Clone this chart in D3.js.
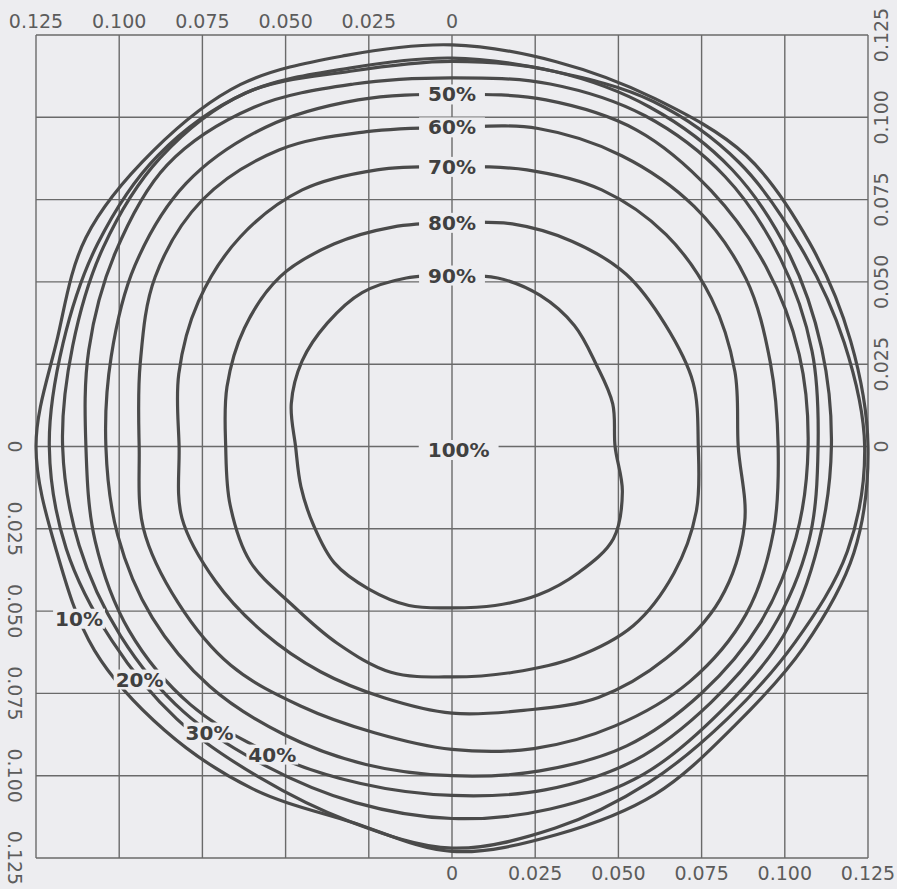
<!DOCTYPE html>
<html>
<head>
<meta charset="utf-8">
<script src="https://cdn.jsdelivr.net/npm/d3@7"></script>
<style>
  body { margin: 0; background: #ededf0; }
  svg { display: block; }
  .tick-label { font-family: 'DejaVu Sans', sans-serif; font-size: 19px; fill: #5c5c5c; }
  .level-label { font-family: 'DejaVu Sans', sans-serif; font-weight: bold; font-size: 20px; fill: #404040; }
</style>
</head>
<body>
<script>
// angles (deg, counter-clockwise from +x) at which each contour radius was read
const angles = d3.range(0, 360, 15);

// contour radii, same units as the axes
const r10 = [0.125,0.124,0.124,0.125,0.122,0.121,0.122,0.123,0.127,0.127,0.127,0.123,0.125,0.123,0.124,0.122,0.120,0.118,0.123,0.122,0.122,0.120,0.122,0.125];
const r20 = [0.124,0.122,0.121,0.122,0.121,0.118,0.118,0.119,0.124,0.125,0.123,0.121,0.121,0.120,0.118,0.117,0.116,0.118,0.122,0.120,0.118,0.117,0.119,0.123];
const r30 = [0.114,0.115,0.117,0.119,0.119,0.118,0.117,0.118,0.124,0.124,0.121,0.118,0.117,0.116,0.115,0.114,0.112,0.112,0.113,0.114,0.115,0.114,0.115,0.114];
const r40 = [0.110,0.112,0.114,0.116,0.116,0.114,0.112,0.114,0.119,0.121,0.117,0.113,0.110,0.111,0.112,0.111,0.108,0.106,0.106,0.108,0.110,0.110,0.111,0.111];
const r50 = [0.107,0.108,0.109,0.110,0.111,0.109,0.107,0.109,0.112,0.113,0.110,0.106,0.104,0.104,0.104,0.103,0.101,0.100,0.100,0.102,0.105,0.106,0.107,0.107];
const r60 = [0.098,0.099,0.102,0.103,0.102,0.100,0.097,0.099,0.104,0.106,0.103,0.097,0.094,0.096,0.095,0.094,0.091,0.090,0.092,0.095,0.098,0.101,0.102,0.100];
const r70 = [0.086,0.088,0.090,0.091,0.090,0.087,0.085,0.087,0.090,0.090,0.088,0.085,0.082,0.084,0.082,0.080,0.079,0.079,0.081,0.083,0.088,0.091,0.093,0.091];
const r80 = [0.074,0.075,0.074,0.074,0.072,0.070,0.068,0.069,0.071,0.073,0.072,0.070,0.068,0.069,0.070,0.068,0.069,0.071,0.070,0.071,0.074,0.077,0.077,0.076];
const r90 = [0.049,0.050,0.050,0.052,0.053,0.053,0.052,0.053,0.054,0.053,0.052,0.050,0.047,0.047,0.048,0.050,0.050,0.050,0.049,0.050,0.052,0.054,0.056,0.053];

const levels = ["10%", "20%", "30%", "40%", "50%", "60%", "70%", "80%", "90%"];
const radii = [r10, r20, r30, r40, r50, r60, r70, r80, r90];
// angle along each contour where its label sits
const labelAngles = [205, 217, 230, 240, 90, 90, 90, 90, 90];

// tick labels as printed on each side
const topTicks = [0.125, 0.100, 0.075, 0.050, 0.025, 0];
const bottomTicks = [0, 0.025, 0.050, 0.075, 0.100, 0.125];
const leftTicks = [0, 0.025, 0.050, 0.075, 0.100, 0.125];
const rightTicks = [0.125, 0.100, 0.075, 0.050, 0.025, 0];

const width = 897, height = 889;
const bg = "#ededf0";

const x = d3.scaleLinear().domain([-0.125, 0.125]).range([36, 868]);
const y = d3.scaleLinear().domain([-0.125, 0.125]).range([858, 35]);

const svg = d3.select("body").append("svg")
    .attr("width", width)
    .attr("height", height);

svg.append("rect").attr("width", width).attr("height", height).attr("fill", bg);

// grid
const gridVals = d3.range(-0.125, 0.1251, 0.025);
svg.append("g").selectAll("line.v")
    .data(gridVals).enter().append("line")
    .attr("x1", d => x(d)).attr("x2", d => x(d))
    .attr("y1", y(0.125)).attr("y2", y(-0.125))
    .attr("stroke", "#6a6a6a").attr("stroke-width", 1.4);
svg.append("g").selectAll("line.h")
    .data(gridVals).enter().append("line")
    .attr("y1", d => y(d)).attr("y2", d => y(d))
    .attr("x1", x(-0.125)).attr("x2", x(0.125))
    .attr("stroke", "#6a6a6a").attr("stroke-width", 1.4);

// contours
function pts(r) {
    return r.map((v, i) => {
        const a = angles[i] * Math.PI / 180;
        return [v * Math.cos(a), v * Math.sin(a)];
    });
}
function radiusAt(r, deg) {
    const i = Math.floor(deg / 15) % 24;
    const t = (deg - i * 15) / 15;
    return r[i] * (1 - t) + r[(i + 1) % 24] * t;
}

const line = d3.line()
    .x(d => x(d[0]))
    .y(d => y(d[1]))
    .curve(d3.curveCatmullRomClosed.alpha(0.5));

svg.append("g").selectAll("path")
    .data(radii).enter().append("path")
    .attr("d", d => line(pts(d)))
    .attr("fill", "none")
    .attr("stroke", "#4a4a4a")
    .attr("stroke-width", 3.2)
    .attr("stroke-linejoin", "round");

// level labels, with a patch of paper behind them
const labels = levels.map((t, i) => {
    const a = labelAngles[i];
    const r = radiusAt(radii[i], a);
    const rad = a * Math.PI / 180;
    return { text: t, cx: r * Math.cos(rad), cy: r * Math.sin(rad), pad: a === 90 ? 9 : 2 };
});
labels.push({ text: "100%", cx: 0.002, cy: -0.001, pad: 9 });

const lg = svg.append("g");
labels.forEach(l => {
    const g = lg.append("g");
    const txt = g.append("text")
        .attr("class", "level-label")
        .attr("x", x(l.cx)).attr("y", y(l.cy))
        .attr("text-anchor", "middle")
        .attr("dy", "0.36em")
        .text(l.text);
    const b = txt.node().getBBox();
    g.insert("rect", "text")
        .attr("x", b.x - l.pad).attr("y", b.y + 2)
        .attr("width", b.width + 2 * l.pad).attr("height", b.height - 4)
        .attr("fill", bg);
});

// axis labels
const fmt = v => v === 0 ? "0" : d3.format(".3f")(v);

svg.append("g").selectAll("text")
    .data(topTicks).enter().append("text")
    .attr("class", "tick-label")
    .attr("x", d => x(-d)).attr("y", y(0.125) - 7)
    .attr("text-anchor", "middle")
    .text(fmt);

svg.append("g").selectAll("text")
    .data(bottomTicks).enter().append("text")
    .attr("class", "tick-label")
    .attr("x", d => x(d)).attr("y", y(-0.125) + 22)
    .attr("text-anchor", "middle")
    .text(fmt);

svg.append("g").selectAll("text")
    .data(leftTicks).enter().append("text")
    .attr("class", "tick-label")
    .attr("transform", d => `translate(15,${y(-d)}) rotate(90)`)
    .attr("text-anchor", "middle")
    .attr("dy", "0.35em")
    .text(fmt);

svg.append("g").selectAll("text")
    .data(rightTicks).enter().append("text")
    .attr("class", "tick-label")
    .attr("transform", d => `translate(881,${y(d)}) rotate(-90)`)
    .attr("text-anchor", "middle")
    .attr("dy", "0.35em")
    .text(fmt);
</script>
</body>
</html>
